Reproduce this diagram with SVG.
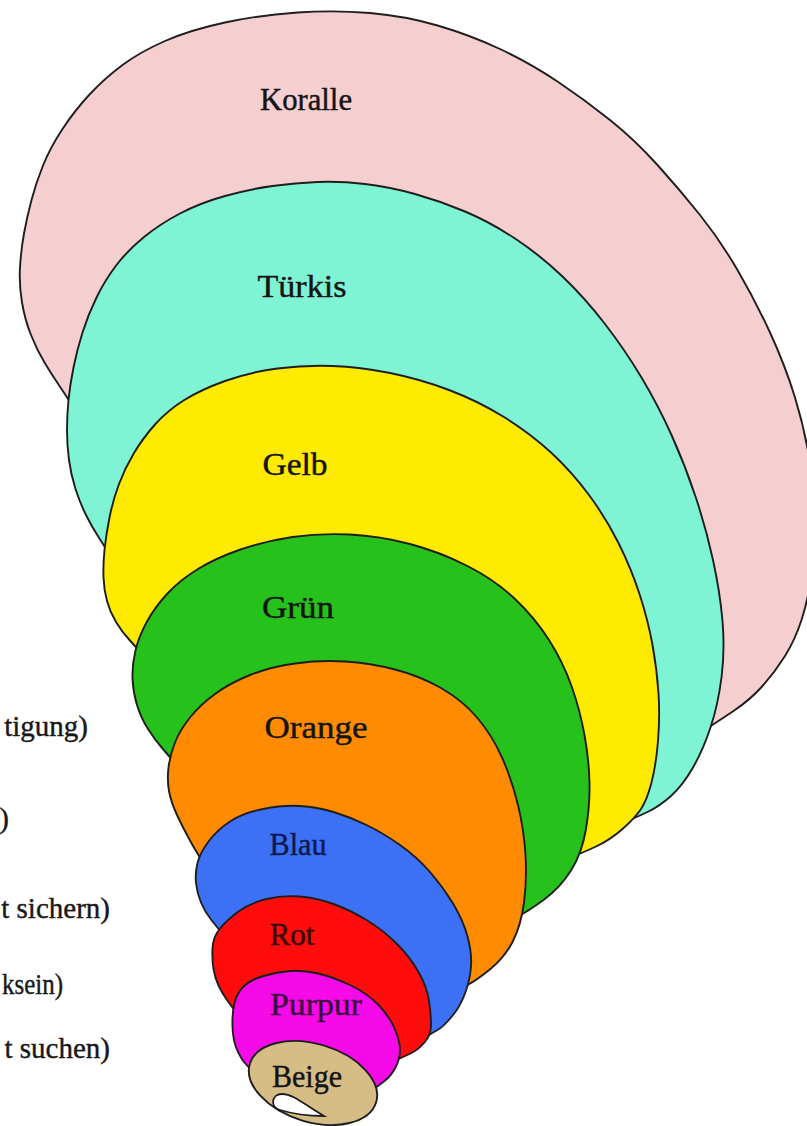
<svg xmlns="http://www.w3.org/2000/svg" width="807" height="1126" viewBox="0 0 807 1126">
<style>
.shape{stroke:#1e1e1e;stroke-width:1.9;stroke-linejoin:round}
.lbl{font-family:"Liberation Serif","Times New Roman",serif;font-size:32px;fill:#141414;stroke:#141414;stroke-width:0.45;text-anchor:middle}
.side{font-family:"Liberation Serif","Times New Roman",serif;font-size:29px;fill:#181818;stroke:#181818;stroke-width:0.4;text-anchor:end}
</style>
<rect width="807" height="1126" fill="#ffffff"/>
<g id="koralle">
<path class="shape" fill="#F5CFCF" d="M76,412 L71.5,404.5 Q67,397 59.5,386 Q52,375 44.5,362.5 Q37,350 31,335 Q25,320 22,302.5 Q19,285 20,267.5 Q21,250 24,233.5 Q27,217 31.5,200 Q36,183 43,165.5 Q50,148 62.5,129 Q75,110 90,94 Q105,78 122.5,65 Q140,52 165,41 Q190,30 225,22.5 Q260,15 297.5,12.5 Q335,10 370,13 Q405,16 437.5,25.5 Q470,35 500,49 Q530,63 557.5,81.5 Q585,100 610,120 Q635,140 657.5,165 Q680,190 700,215 Q720,240 737.5,270 Q755,300 770,332.5 Q785,365 795,397.5 Q805,430 810,462.5 Q815,495 815,522.5 Q815,550 811.5,575 Q808,600 801.5,620 Q795,640 785,656 Q775,672 762.5,686 Q750,700 733.5,711 Q717,722 708.5,727.5 L700,733 L400,500 Z"/>
<text class="lbl" x="306" y="110" textLength="92" lengthAdjust="spacingAndGlyphs">Koralle</text>
</g>
<g id="tuerkis">
<path class="shape" fill="#7EF4D5" d="M112,560 L108.5,553.5 Q105,547 98.5,537 Q92,527 86,515 Q80,503 75.5,489 Q71,475 69,460 Q67,445 67,430 Q67,415 68.5,400 Q70,385 73.5,367.5 Q77,350 82.5,332.5 Q88,315 96.5,297.5 Q105,280 116.5,265 Q128,250 144,237 Q160,224 180,213.5 Q200,203 225,196 Q250,189 272.5,186 Q295,183 317.5,182 Q340,181 365,184 Q390,187 415,194 Q440,201 465,211.5 Q490,222 515,238.5 Q540,255 562.5,276.5 Q585,298 605,324 Q625,350 641.5,377.5 Q658,405 671.5,435 Q685,465 695.5,496.5 Q706,528 713,560 Q720,592 722.5,621 Q725,650 721.5,677.5 Q718,705 710.5,727.5 Q703,750 693,767.5 Q683,785 671.5,795.5 Q660,806 647.5,812 Q635,818 626.5,821 L618,824 L380,620 Z"/>
<text class="lbl" x="302" y="297" textLength="89" lengthAdjust="spacingAndGlyphs">Türkis</text>
</g>
<g id="gelb">
<path class="shape" fill="#FFEB00" d="M147,660 L142,654 Q137,648 129.5,640 Q122,632 116,622 Q110,612 107,601 Q104,590 103.5,577.5 Q103,565 104.5,550 Q106,535 109.5,517.5 Q113,500 119,484 Q125,468 134,453 Q143,438 155,424.5 Q167,411 183.5,400.5 Q200,390 225,381 Q250,372 277.5,368.5 Q305,365 332.5,366 Q360,367 390,373 Q420,379 449,390 Q478,401 504,417 Q530,433 551,452.5 Q572,472 589,495 Q606,518 618.5,543 Q631,568 639.5,594 Q648,620 652.5,645 Q657,670 658.5,693.5 Q660,717 658,741 Q656,765 651.5,782.5 Q647,800 641,809 Q635,818 622.5,829 Q610,840 596,846.5 Q582,853 575,855.5 L568,858 L360,720 Z"/>
<text class="lbl" x="295" y="475" textLength="65" lengthAdjust="spacingAndGlyphs">Gelb</text>
</g>
<g id="gruen">
<path class="shape" fill="#26C21B" d="M180,770 L175,763.5 Q170,757 162.5,748.5 Q155,740 148,729 Q141,718 137,705 Q133,692 132.5,678.5 Q132,665 135.5,650.5 Q139,636 147,621.5 Q155,607 167.5,593.5 Q180,580 198,569 Q216,558 240.5,549.5 Q265,541 292.5,537 Q320,533 350,534.5 Q380,536 410,544 Q440,552 467.5,566 Q495,580 515,599 Q535,618 549,640 Q563,662 571.5,686 Q580,710 584.5,735 Q589,760 589.5,782.5 Q590,805 586,829 Q582,853 571,870.5 Q560,888 543.5,900 Q527,912 518.5,916 L510,920 L340,820 Z"/>
<text class="lbl" x="298" y="618" textLength="72" lengthAdjust="spacingAndGlyphs">Grün</text>
</g>
<g id="orange">
<path class="shape" fill="#FF8C00" d="M205,865 L201,859 Q197,853 190,840.5 Q183,828 177,815 Q171,802 169,791 Q167,780 168.5,767.5 Q170,755 175,742.5 Q180,730 190,717.5 Q200,705 215,694 Q230,683 250,675 Q270,667 295,663.5 Q320,660 345,661.5 Q370,663 395,669.5 Q420,676 441,688 Q462,700 477,717.5 Q492,735 502,757.5 Q512,780 518,805 Q524,830 525.5,855 Q527,880 524,902.5 Q521,925 513,941 Q505,957 491,968.5 Q477,980 467.5,985 L458,990 L330,920 Z"/>
<text class="lbl" x="316" y="738" textLength="103" lengthAdjust="spacingAndGlyphs">Orange</text>
</g>
<g id="blau">
<path class="shape" fill="#3C70F5" d="M225,937 L221,932 Q217,927 211,919.5 Q205,912 201,902.5 Q197,893 196,883 Q195,873 197.5,863 Q200,853 208.5,841.5 Q217,830 230,821.5 Q243,813 263,809 Q283,805 300,806 Q317,807 333.5,812 Q350,817 366.5,825 Q383,833 400,845 Q417,857 430,872 Q443,887 453,903.5 Q463,920 467.5,936.5 Q472,953 471,966.5 Q470,980 465,993.5 Q460,1007 451.5,1017 Q443,1027 437.5,1030 Q432,1033 425,1037.5 L412,1044 L320,975 Z"/>
<text class="lbl" x="298" y="855" textLength="57" lengthAdjust="spacingAndGlyphs" style="fill:#0d1a4d;stroke:#0d1a4d">Blau</text>
</g>
<g id="rot">
<path class="shape" fill="#FF0D0D" d="M240,1017 L236,1012 Q232,1007 227,1000 Q222,993 218.5,985.5 Q215,978 213.5,969 Q212,960 212.5,948.5 Q213,937 220,928.5 Q227,920 238.5,911.5 Q250,903 266.5,899 Q283,895 300,896.5 Q317,898 333.5,904 Q350,910 366.5,920 Q383,930 396.5,943.5 Q410,957 418.5,972 Q427,987 429,1001 Q431,1015 431,1025 Q431,1035 424.5,1042.5 Q418,1050 410.5,1053.5 Q403,1057 397.5,1059.5 L390,1063 L315,1030 Z"/>
<text class="lbl" x="292" y="945" textLength="45" lengthAdjust="spacingAndGlyphs" style="fill:#3b0707;stroke:#3b0707">Rot</text>
</g>
<g id="purpur">
<path class="shape" fill="#F60AE8" d="M258,1075 L253,1071 Q248,1067 244,1062 Q240,1057 236.5,1048.5 Q233,1040 232.5,1026.5 Q232,1013 234.5,1003 Q237,993 243.5,986.5 Q250,980 263.5,976 Q277,972 290,971 Q303,970 318,973.5 Q333,977 350,985 Q367,993 378.5,1005 Q390,1017 395,1029.5 Q400,1042 400,1050 Q400,1058 396,1066.5 Q392,1075 384.5,1081 Q377,1087 372.5,1089.5 L368,1092 L313,1083 Z"/>
<text class="lbl" x="316" y="1015" textLength="92" lengthAdjust="spacingAndGlyphs" style="fill:#3d0a40;stroke:#3d0a40">Purpur</text>
</g>
<g id="beige">
<ellipse class="shape" fill="#D6BD86" cx="313" cy="1083" rx="66" ry="39" transform="rotate(17 313 1083)"/>
<path fill="#ffffff" stroke="#1e1e1e" stroke-width="1.8" d="M324,1116 C306,1106 294,1094 282,1094 C271,1094 270,1107 280,1110 C293,1114 310,1116 324,1116 Z"/>
<text class="lbl" x="307" y="1087" textLength="70" lengthAdjust="spacingAndGlyphs">Beige</text>
</g>
<g id="side-labels">
<text class="side" x="88" y="736">tigung)</text>
<text class="side" x="9" y="828">)</text>
<text class="side" x="110" y="918">t sichern)</text>
<text class="side" x="63" y="994" textLength="61" lengthAdjust="spacingAndGlyphs">ksein)</text>
<text class="side" x="110" y="1058">t suchen)</text>
</g>
</svg>
